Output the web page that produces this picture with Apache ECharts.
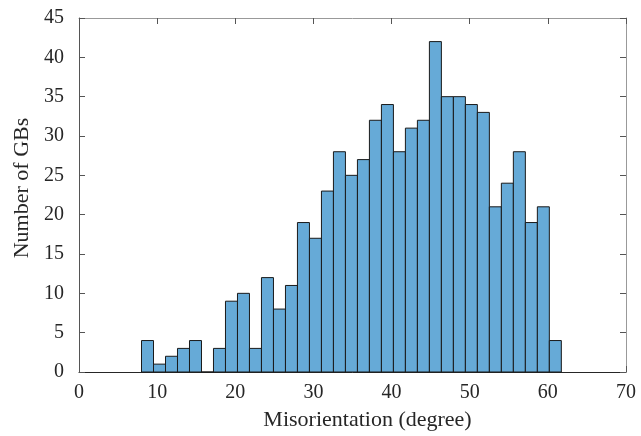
<!DOCTYPE html>
<html>
<head>
<meta charset="utf-8">
<script src="https://cdn.jsdelivr.net/npm/echarts@6/dist/echarts.min.js"></script>
<style>html,body{margin:0;padding:0;background:#fff}#c{width:641px;height:436px}</style>
</head>
<body>
<div id="c"></div>
<script>
// Histogram data
const binStart = 8.0;      // left edge of first bin (degree)
const binWidth = 1.535;    // bin width (degree)
const counts = [4,1,2,3,4,0,3,9,10,3,12,8,11,19,17,23,28,25,27,32,34,28,31,32,42,35,35,34,33,21,24,28,19,21,4];
const xTicks = [0,10,20,30,40,50,60,70];
const yTicks = [0,5,10,15,20,25,30,35,40,45];
const xTitle = 'Misorientation (degree)';
const yTitle = 'Number of GBs';

const data = counts.map((c, i) => [binStart + i * binWidth, binStart + (i + 1) * binWidth, c]);

const font = 'Liberation Serif';
const axisColor = '#262626';
const chart = echarts.init(document.getElementById('c'));
const commonTick = { show: true, inside: true, length: 6, lineStyle: { color: '#555', width: 1 } };
chart.setOption({
  animation: false,
  grid: { left: 79, right: 15, top: 18, bottom: 60, show: false },
  xAxis: [{
    type: 'value', min: xTicks[0], max: xTicks[xTicks.length - 1], interval: 10, position: 'bottom',
    name: xTitle, nameLocation: 'middle', nameGap: 37,
    nameTextStyle: { fontFamily: font, fontSize: 22, color: axisColor, padding: [0, 0, 0, 30] },
    axisLine: { show: true, onZero: false, lineStyle: { color: axisColor, width: 1 } },
    axisTick: commonTick,
    axisLabel: { fontFamily: font, fontSize: 20, color: axisColor, margin: 11 },
    splitLine: { show: false }
  }, {
    type: 'value', min: xTicks[0], max: xTicks[xTicks.length - 1], interval: 10, position: 'top',
    axisLine: { show: true, onZero: false, lineStyle: { color: '#999', width: 1 } },
    axisTick: commonTick, axisLabel: { show: false }, splitLine: { show: false }
  }],
  yAxis: [{
    type: 'value', min: yTicks[0], max: yTicks[yTicks.length - 1], interval: 5, position: 'left',
    name: yTitle, nameLocation: 'middle', nameGap: 44,
    nameTextStyle: { fontFamily: font, fontSize: 22, color: axisColor, padding: [0, 0, 0, 14] },
    axisLine: { show: true, onZero: false, lineStyle: { color: '#555', width: 1 } },
    axisTick: commonTick,
    axisLabel: { fontFamily: font, fontSize: 20, color: axisColor, margin: 15 },
    splitLine: { show: false }
  }, {
    type: 'value', min: yTicks[0], max: yTicks[yTicks.length - 1], interval: 5, position: 'right',
    axisLine: { show: true, onZero: false, lineStyle: { color: '#999', width: 1 } },
    axisTick: commonTick, axisLabel: { show: false }, splitLine: { show: false }
  }],
  series: [{
    type: 'custom',
    xAxisIndex: 0, yAxisIndex: 0,
    data: data,
    renderItem: function (params, api) {
      const p0 = api.coord([api.value(0), 0]);
      const p1 = api.coord([api.value(1), api.value(2)]);
      return {
        type: 'rect',
        shape: { x: p0[0], y: p1[1], width: p1[0] - p0[0], height: p0[1] - p1[1] },
        style: { fill: '#66AAD7', stroke: '#1a1a1a', lineWidth: 1 }
      };
    },
    encode: { x: [0, 1], y: 2 }
  }]
});
</script>
</body>
</html>
